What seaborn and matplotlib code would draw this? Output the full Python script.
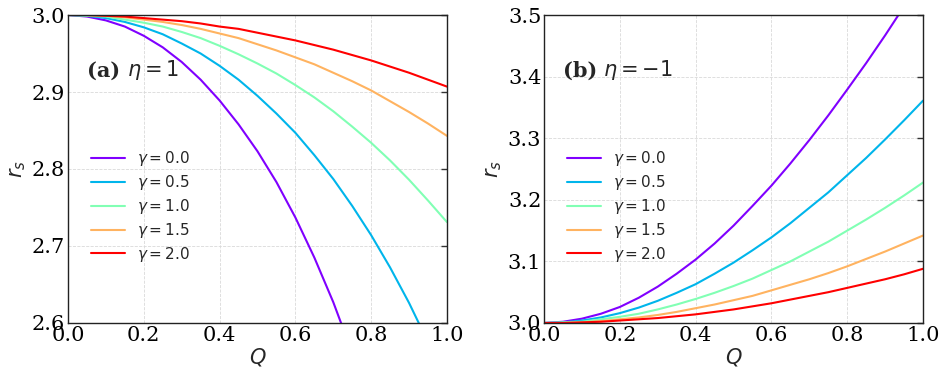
import numpy as np
import pandas as pd
import seaborn as sns
import matplotlib
matplotlib.use("Agg")
import matplotlib.pyplot as plt

# data
Q = [0.00, 0.05, 0.10, 0.15, 0.20, 0.25, 0.30, 0.35, 0.40, 0.45, 0.50,
     0.55, 0.60, 0.65, 0.70, 0.75, 0.80, 0.85, 0.90, 0.95, 1.00]
gammas = ["0.0", "0.5", "1.0", "1.5", "2.0"]

# (a) eta = 1
rs_a_g00 = [3.000, 2.998, 2.993, 2.985, 2.973, 2.958, 2.939, 2.916, 2.889, 2.858, 2.823,
            2.783, 2.737, 2.685, 2.627, 2.561, 2.485, 2.397, 2.294, 2.167, 2.000]
rs_a_g05 = [3.000, 2.999, 2.996, 2.991, 2.984, 2.975, 2.963, 2.950, 2.934, 2.916, 2.895,
            2.872, 2.847, 2.818, 2.787, 2.752, 2.714, 2.672, 2.626, 2.575, 2.518]
rs_a_g10 = [3.000, 2.999, 2.998, 2.994, 2.990, 2.985, 2.978, 2.970, 2.960, 2.949, 2.937,
            2.924, 2.909, 2.893, 2.875, 2.855, 2.834, 2.811, 2.786, 2.759, 2.731]
rs_a_g15 = [3.000, 3.000, 2.999, 2.997, 2.994, 2.991, 2.987, 2.982, 2.976, 2.970, 2.962,
            2.954, 2.945, 2.936, 2.925, 2.914, 2.902, 2.888, 2.874, 2.859, 2.843]
rs_a_g20 = [3.000, 3.000, 2.999, 2.998, 2.996, 2.994, 2.992, 2.989, 2.985, 2.982, 2.977,
            2.972, 2.967, 2.961, 2.955, 2.948, 2.941, 2.933, 2.925, 2.916, 2.907]

# (b) eta = -1
rs_b_g00 = [3.000, 3.002, 3.007, 3.015, 3.026, 3.041, 3.059, 3.080, 3.103, 3.129, 3.158,
            3.190, 3.223, 3.259, 3.297, 3.337, 3.379, 3.422, 3.467, 3.514, 3.562]
rs_b_g05 = [3.000, 3.001, 3.004, 3.009, 3.016, 3.025, 3.036, 3.049, 3.063, 3.080, 3.098,
            3.118, 3.139, 3.162, 3.187, 3.212, 3.240, 3.268, 3.298, 3.329, 3.361]
rs_b_g10 = [3.000, 3.001, 3.002, 3.006, 3.010, 3.015, 3.022, 3.030, 3.039, 3.049, 3.060,
            3.072, 3.086, 3.100, 3.116, 3.132, 3.150, 3.168, 3.187, 3.207, 3.228]
rs_b_g15 = [3.000, 3.000, 3.001, 3.003, 3.006, 3.009, 3.013, 3.018, 3.024, 3.030, 3.037,
            3.044, 3.053, 3.062, 3.071, 3.081, 3.092, 3.104, 3.116, 3.129, 3.142]
rs_b_g20 = [3.000, 3.000, 3.001, 3.002, 3.004, 3.006, 3.008, 3.011, 3.014, 3.018, 3.022,
            3.027, 3.032, 3.038, 3.044, 3.050, 3.057, 3.064, 3.071, 3.079, 3.088]

panel_a = [rs_a_g00, rs_a_g05, rs_a_g10, rs_a_g15, rs_a_g20]
panel_b = [rs_b_g00, rs_b_g05, rs_b_g10, rs_b_g15, rs_b_g20]


def long_frame(series):
    rows = []
    for g, vals in zip(gammas, series):
        for q, r in zip(Q, vals):
            rows.append({"Q": q, "rs": r, "gamma": r"$\gamma = %s$" % g})
    return pd.DataFrame(rows)


sns.set_style("white")
plt.rcParams["font.family"] = ["DejaVu Serif"]
plt.rcParams["mathtext.fontset"] = "dejavusans"

colors = [plt.cm.rainbow(v) for v in np.linspace(0, 1, 5)]

fig = plt.figure(figsize=(9.47, 3.79), dpi=100)
ax_a = fig.add_axes([0.0718, 0.1478, 0.4002, 0.8126])
ax_b = fig.add_axes([0.5745, 0.1478, 0.4002, 0.8126])

setup = [
    (ax_a, panel_a, (2.6, 3.0), np.arange(2.6, 3.01, 0.1), "(a)", r"$\eta = 1$"),
    (ax_b, panel_b, (3.0, 3.5), np.arange(3.0, 3.51, 0.1), "(b)", r"$\eta = -1$"),
]

xticks = np.arange(0, 1.01, 0.2)
for ax, series, ylim, yticks, tag, eta in setup:
    df = long_frame(series)
    sns.lineplot(data=df, x="Q", y="rs", hue="gamma", palette=colors,
                 linewidth=1.5, ax=ax, legend=True)
    ax.set_xlim(0, 1)
    ax.set_ylim(*ylim)
    ax.set_xticks(xticks)
    ax.set_yticks(yticks)
    ax.set_xticklabels(["%.1f" % v for v in xticks])
    ax.set_yticklabels(["%.1f" % v for v in yticks])
    ax.tick_params(direction="in", length=4, width=1, labelsize=15, pad=2,
                   top=False, right=True, colors="#333333", labelcolor="black")
    ax.grid(True, linestyle="--", linewidth=0.6, color="#d9d9d9")
    for sp in ax.spines.values():
        sp.set_color("#222222")
        sp.set_linewidth(1.0)
    ax.set_xlabel(r"$Q$", fontsize=15, labelpad=1)
    ax.set_ylabel(r"$r_s$", fontsize=15, labelpad=3)
    ax.text(0.05, 0.82, tag, transform=ax.transAxes,
            fontsize=15, fontweight="bold", va="center", ha="left")
    ax.text(0.155, 0.82, eta, transform=ax.transAxes, fontsize=15,
            va="center", ha="left")
    ax.legend(frameon=False, loc="center left", bbox_to_anchor=(0.025, 0.378),
              fontsize=11, handlelength=2.2, handletextpad=0.8,
              labelspacing=0.32, title=None)

fig.savefig("out.png", dpi=100)
